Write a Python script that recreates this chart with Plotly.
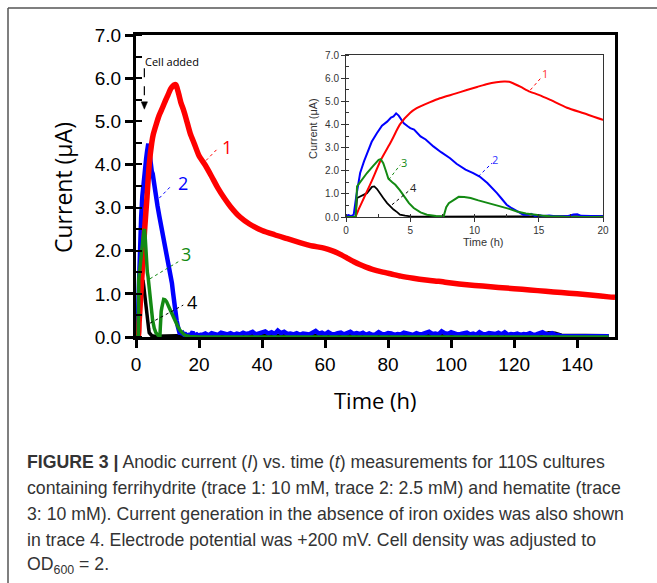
import plotly.graph_objects as go

W, H = 657, 583

# ---------------- data ----------------
t1 = [0, 0.7, 1.0, 1.5, 2.0, 2.7, 3.5, 4.2, 5.0, 5.5, 6.5, 7.3, 8.5, 9.4, 10.2, 11.0, 11.7, 12.3, 12.7,
      13.0, 13.6, 14.3, 15.0, 15.9, 17.2, 18.5, 20, 22, 24, 26, 28, 30, 33, 36, 40, 44, 48, 52, 56, 59,
      61, 63, 65, 67, 69, 71, 73, 75, 78, 81, 84, 88, 92, 96, 100, 105, 110, 115, 120, 125, 130, 135, 140,
      145, 150, 152]
i1 = [0, 0, 0.35, 0.95, 1.55, 2.45, 3.25, 4.0, 4.5, 4.7, 4.95, 5.13, 5.33, 5.49, 5.62, 5.75, 5.82, 5.85, 5.84,
      5.78, 5.62, 5.42, 5.28, 5.06, 4.72, 4.48, 4.2, 3.98, 3.72, 3.45, 3.22, 3.02, 2.78, 2.62, 2.47, 2.37, 2.28,
      2.19, 2.11, 2.07, 2.03, 1.98, 1.91, 1.83, 1.75, 1.68, 1.62, 1.57, 1.51, 1.46, 1.41, 1.36, 1.32, 1.29,
      1.25, 1.21, 1.18, 1.15, 1.12, 1.09, 1.06, 1.03, 1.00, 0.97, 0.93, 0.92]

t2 = ([0, 0.2, 0.4, 0.6, 0.8, 1.1, 1.4, 1.63, 2.0, 2.4, 2.8, 3.2, 3.5, 3.7, 3.9, 4.1, 4.3, 4.5, 4.8, 5.0,
       5.3, 5.6, 5.8, 6.2, 6.8, 7.4, 8.1, 8.6, 8.9, 9.3, 9.9, 10.4, 11.0, 11.4, 11.75, 12.1, 12.5, 12.9,
       13.3, 13.8, 14.2, 14.4, 14.7, 15.0, 15.4, 15.8, 16.3, 16.8, 17.3, 17.7, 18.0, 18.3, 18.8, 19.3, 19.8,
       20.5] + list(range(21, 136)) + [150])
i2 = [0.05, 0.08, 0.04, 0.1, 0.9, 1.9, 2.4, 2.76, 3.25, 3.62, 3.95, 4.12, 4.3, 4.35, 4.48, 4.38, 4.2, 4.05,
      3.92, 3.84, 3.78, 3.6, 3.48, 3.35, 3.05, 2.8, 2.54, 2.3, 2.18, 2.05, 1.9, 1.75, 1.47, 1.25, 1.03, 0.8,
      0.53, 0.38, 0.24, 0.1, 0.1, 0.14, 0.05, 0.08, 0.04, 0.06, 0.03, 0.05, 0.04, 0.11, 0.12, 0.05, 0.04,
      0.06, 0.03, 0.05,
      0.05, 0.08, 0.04, 0.09, 0.06, 0.05, 0.1, 0.07, 0.06, 0.09,
      0.05, 0.08, 0.06, 0.1, 0.07, 0.09, 0.12, 0.06, 0.08, 0.1,
      0.13, 0.08, 0.11, 0.07, 0.15, 0.09, 0.12, 0.07, 0.08, 0.06,
      0.09, 0.05, 0.08, 0.07, 0.06, 0.1, 0.14, 0.08, 0.1, 0.06,
      0.11, 0.07, 0.06, 0.09, 0.1, 0.06, 0.08, 0.12, 0.07, 0.09,
      0.07, 0.1, 0.05, 0.08, 0.05, 0.06, 0.11, 0.07, 0.06, 0.09,
      0.08, 0.05, 0.07, 0.06, 0.1, 0.08, 0.07, 0.05, 0.09, 0.06,
      0.07, 0.1, 0.12, 0.07, 0.08, 0.06, 0.13, 0.09, 0.07, 0.11,
      0.09, 0.06, 0.07, 0.08, 0.1, 0.06, 0.08, 0.05, 0.11, 0.07,
      0.06, 0.09, 0.08, 0.07, 0.1, 0.06, 0.11, 0.05, 0.07, 0.06,
      0.08, 0.05, 0.07, 0.06, 0.09, 0.05, 0.06, 0.08, 0.11, 0.07,
      0.06, 0.09, 0.05, 0.04, 0.02,
      0.02]

t3 = [0, 0.75, 0.86, 1.2, 1.63, 2.1, 2.54, 2.7, 2.9, 3.1, 3.3, 3.6, 3.84, 4.2, 4.5, 4.9, 5.27, 5.8, 6.3,
      7.0, 7.6, 7.7, 7.8, 8.0, 8.2, 8.4, 8.77, 9.2, 9.7, 10.3, 11.0, 12.0, 12.7, 13.3, 14.0, 14.6, 15.2,
      15.9, 17, 20, 150]
i3 = [0, 0, 1.32, 1.6, 1.9, 2.2, 2.47, 2.5, 2.33, 2.0, 1.65, 1.5, 1.39, 1.15, 0.89, 0.6, 0.39, 0.2, 0.1,
      0.04, 0.03, 0.2, 0.42, 0.6, 0.68, 0.75, 0.87, 0.86, 0.82, 0.72, 0.6, 0.46, 0.35, 0.24, 0.15, 0.1, 0.06,
      0.03, 0.01, 0, 0]

t4 = [0, 0.75, 0.86, 1.2, 1.63, 2.02, 2.2, 2.4, 2.67, 2.9, 3.2, 3.45, 3.7, 4.0, 4.2, 4.6, 5.0, 6, 10, 20,
      40, 60, 80, 100, 120, 128, 131, 133, 135, 150]
i4 = [0, 0, 0.82, 0.9, 1.03, 1.3, 1.32, 1.22, 1.03, 0.82, 0.6, 0.45, 0.32, 0.2, 0.1, 0.06, 0.03, 0.02, 0.03,
      0.04, 0.03, 0.04, 0.03, 0.04, 0.04, 0.05, 0.1, 0.09, 0.04, 0.03]

main_x_ticks = [0, 20, 40, 60, 80, 100, 120, 140]
inset_x_ticks = [0, 5, 10, 15, 20]
y_ticks = [0, 1, 2, 3, 4, 5, 6, 7]

caption_lines = [
    "<b>FIGURE 3 |</b> Anodic current (<i>I</i>) vs. time (<i>t</i>) measurements for 110S cultures",
    "containing ferrihydrite (trace 1: 10 mM, trace 2: 2.5 mM) and hematite (trace",
    "3: 10 mM). Current generation in the absence of iron oxides was also shown",
    "in trace 4. Electrode potential was +200 mV. Cell density was adjusted to",
    "OD<sub>600</sub> = 2.",
]

# ---------------- figure ----------------
series = [
    (t4, i4, "black", 3.5, 1.8, "linear"),
    (t2, i2, "#0000FF", 4.5, 2.0, "linear"),
    (t1, i1, "#FF0000", 5.5, 2.0, "spline"),
    (t3, i3, "#138A13", 3.5, 2.0, "linear"),
]

fig = go.Figure()
for tt, ii, col, wm, wi, shp in series:
    fig.add_trace(go.Scatter(x=tt, y=ii, mode="lines",
                             line=dict(color=col, width=wm, shape=shp, smoothing=0.6),
                             xaxis="x", yaxis="y", showlegend=False, hoverinfo="skip"))
for tt, ii, col, wm, wi, shp in series:
    fig.add_trace(go.Scatter(x=tt, y=ii, mode="lines",
                             line=dict(color=col, width=wi, shape=shp, smoothing=0.6),
                             xaxis="x2", yaxis="y2", showlegend=False, hoverinfo="skip"))

def px(x):
    return x / W

def py(y):
    return 1 - y / H

tickfont_main = dict(family="Liberation Sans, Arial", size=19, color="black")
tickfont_in = dict(family="Liberation Sans, Arial", size=10, color="#333")

fig.update_layout(
    width=W, height=H,
    margin=dict(l=0, r=0, t=0, b=0, autoexpand=False),
    paper_bgcolor="white", plot_bgcolor="rgba(0,0,0,0)",
    xaxis=dict(domain=[px(136), px(615)], range=[0, 152], tickvals=main_x_ticks,
               ticks="outside", ticklen=8, tickwidth=3, tickcolor="black",
               showline=True, linewidth=3, linecolor="black", mirror=True,
               showgrid=False, zeroline=False, tickfont=tickfont_main, anchor="y"),
    yaxis=dict(domain=[py(337), py(35)], range=[0, 7], tickvals=y_ticks, tickformat=".1f",
               ticks="outside", ticklen=8, tickwidth=3, tickcolor="black",
               minor=dict(ticks="inside", ticklen=6, tickwidth=2, dtick=0.5, tickcolor="black"),
               showline=True, linewidth=3, linecolor="black", mirror=True,
               showgrid=False, zeroline=False, tickfont=tickfont_main, anchor="x"),
    xaxis2=dict(domain=[px(346), px(603)], range=[0, 20], tickvals=inset_x_ticks,
                ticks="outside", ticklen=4, tickwidth=1, tickcolor="#333",
                minor=dict(ticks="inside", ticklen=3, tickwidth=1, dtick=2.5, tickcolor="#333"),
                showline=True, linewidth=1, linecolor="#333", mirror=True,
                showgrid=False, zeroline=False, tickfont=tickfont_in, anchor="y2"),
    yaxis2=dict(domain=[py(217), py(55)], range=[0, 7], tickvals=y_ticks, tickformat=".1f",
                ticks="outside", ticklen=4, tickwidth=1, tickcolor="#333",
                minor=dict(ticks="inside", ticklen=3, tickwidth=1, dtick=0.5, tickcolor="#333"),
                showline=True, linewidth=1, linecolor="#333", mirror=True,
                showgrid=False, zeroline=False, tickfont=tickfont_in, anchor="x2"),
)

title_font = dict(family="Open Sans, Noto Sans", size=22, color="black")
ann = [
    dict(text="Current (μA)", x=px(63), y=py(188), xref="paper", yref="paper", textangle=-90,
         showarrow=False, font=dict(family="Open Sans, Noto Sans", size=23, color="black"),
         xanchor="center", yanchor="middle"),
    dict(text="Time (h)", x=px(375), y=py(400), xref="paper", yref="paper",
         showarrow=False, font=title_font, xanchor="center", yanchor="middle"),
    dict(text="Current (μA)", x=px(313), y=py(129), xref="paper", yref="paper", textangle=-90,
         showarrow=False, font=dict(family="Liberation Sans, Arial", size=11, color="#333"),
         xanchor="center", yanchor="middle"),
    dict(text="Time (h)", x=px(483), y=py(242), xref="paper", yref="paper",
         showarrow=False, font=dict(family="Liberation Sans, Arial", size=11, color="#333"),
         xanchor="center", yanchor="middle"),
    dict(text="Cell added", x=2.3, y=6.38, xref="x", yref="y", showarrow=False,
         font=dict(family="Open Sans, Noto Sans", size=11, color="black"),
         xanchor="left", yanchor="middle"),
]
# trace number labels: (text, x, y, color, axes, size)
labels = [
    ("1", 29.0, 4.40, "#FF0000", "x", "y", 18),
    ("2", 15.0, 3.58, "#0000FF", "x", "y", 18),
    ("3", 15.8, 1.93, "#138A13", "x", "y", 18),
    ("4", 17.7, 0.82, "black", "x", "y", 18),
    ("1", 15.5, 6.2, "#FF3333", "x2", "y2", 11),
    ("2", 11.57, 2.47, "#3333FF", "x2", "y2", 11),
    ("3", 4.49, 2.37, "#138A13", "x2", "y2", 11),
    ("4", 5.27, 1.29, "#222", "x2", "y2", 11),
]
for txt, xx, yy, col, xr, yr, sz in labels:
    ann.append(dict(text=txt, x=xx, y=yy, xref=xr, yref=yr, showarrow=False,
                    font=dict(family="Open Sans, Noto Sans", size=sz, color=col),
                    xanchor="center", yanchor="middle"))

cap_y = [462, 488, 514, 540, 565]
for line, yy in zip(caption_lines, cap_y):
    ann.append(dict(text=line, x=px(25), y=py(yy), xref="paper", yref="paper", showarrow=False,
                    font=dict(family="Liberation Sans, Arial", size=17.7, color="#333"),
                    xanchor="left", yanchor="middle"))
fig.update_layout(annotations=ann)

shapes = [
    dict(type="line", xref="paper", yref="paper", x0=px(8), x1=1.0, y0=py(8), y1=py(8),
         line=dict(color="#555", width=1.5), layer="below"),
    dict(type="line", xref="paper", yref="paper", x0=px(8), x1=px(8), y0=0, y1=py(8),
         line=dict(color="#555", width=1.5), layer="below"),
    dict(type="line", xref="x", yref="y", x0=2.65, x1=2.65, y0=6.23, y1=5.42,
         line=dict(color="black", width=1.2, dash="dash")),
    dict(type="path", xref="x", yref="y", path="M 1.65 5.45 L 3.65 5.45 L 2.65 5.28 Z",
         fillcolor="black", line=dict(color="black", width=0.5)),
]
leaders = [
    (22.2, 4.09, 26.1, 4.38, "#FF0000", "x", "y"),
    (7.4, 3.22, 11.0, 3.49, "#0000FF", "x", "y"),
    (4.44, 1.35, 14.0, 1.77, "#138A13", "x", "y"),
    (4.44, 0.32, 15.0, 0.74, "black", "x", "y"),
    (14.35, 5.49, 15.25, 6.06, "#FF0000", "x2", "y2"),
    (10.3, 1.75, 11.36, 2.33, "#0000FF", "x2", "y2"),
    (3.32, 1.61, 4.23, 2.26, "#138A13", "x2", "y2"),
    (3.58, 0.53, 5.0, 1.18, "black", "x2", "y2"),
]
for x0, y0, x1, y1, col, xr, yr in leaders:
    shapes.append(dict(type="line", xref=xr, yref=yr, x0=x0, y0=y0, x1=x1, y1=y1,
                       line=dict(color=col, width=1, dash="dot")))
fig.update_layout(shapes=shapes)

fig.write_html("out.html", config={"displayModeBar": False},
               post_script="document.body.style.margin='0';document.body.style.overflow='hidden';")
